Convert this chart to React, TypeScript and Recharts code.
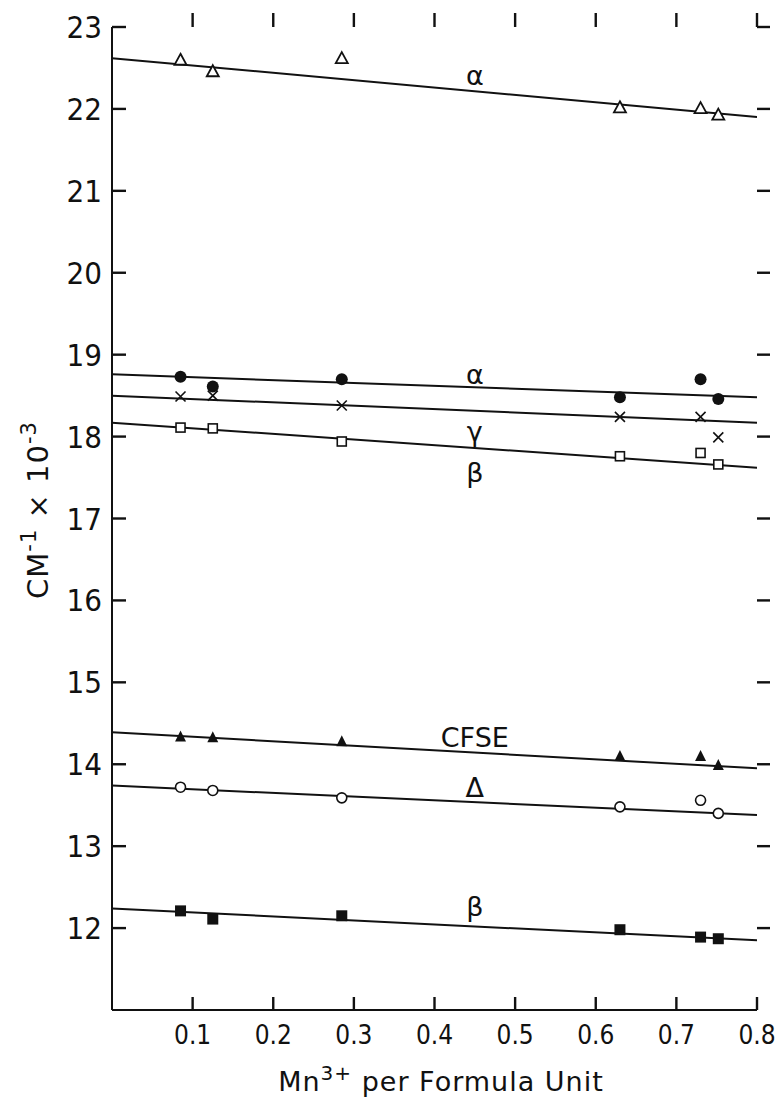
import React from 'react';
import { ComposedChart, Scatter, XAxis, YAxis, Customized } from 'recharts';

// Mn3+ content of each sample (x positions of the measured points)
const MN = [0.085, 0.125, 0.285, 0.63, 0.73, 0.752];

// measured band positions, cm-1 x 10^-3
const ALPHA_UP = [22.6, 22.46, 22.62, 22.02, 22.01, 21.93];
const ALPHA_LO = [18.73, 18.61, 18.7, 18.48, 18.7, 18.46];
const GAMMA = [18.49, 18.5, 18.38, 18.24, 18.24, 17.99];
const BETA_UP = [18.11, 18.1, 17.94, 17.76, 17.8, 17.66];
const CFSE = [14.34, 14.33, 14.28, 14.1, 14.1, 13.99];
const DELTA = [13.72, 13.68, 13.59, 13.48, 13.56, 13.4];
const BETA_LO = [12.21, 12.11, 12.15, 11.98, 11.89, 11.87];

// fitted straight lines: value at x=0 and at x=0.8
const FIT_X = [0, 0.8];
const FIT_ALPHA_UP = [22.62, 21.9];
const FIT_ALPHA_LO = [18.76, 18.48];
const FIT_GAMMA = [18.5, 18.17];
const FIT_BETA_UP = [18.17, 17.62];
const FIT_CFSE = [14.39, 13.95];
const FIT_DELTA = [13.74, 13.38];
const FIT_BETA_LO = [12.24, 11.85];

// curve labels
const LABEL_TEXT = ['α', 'α', 'γ', 'β', 'CFSE', 'Δ', 'β'];
const LABEL_X = [0.45, 0.45, 0.45, 0.45, 0.45, 0.45, 0.45];
const LABEL_Y = [22.41, 18.76, 18.06, 17.56, 14.33, 13.72, 12.26];

const X_TICKS = [0.1, 0.2, 0.3, 0.4, 0.5, 0.6, 0.7, 0.8];
const Y_TICKS = [12, 13, 14, 15, 16, 17, 18, 19, 20, 21, 22, 23];

const INK = '#111';
const FONT = '"DejaVu Sans Condensed", "DejaVu Sans", sans-serif';
const WIDE = '"DejaVu Sans", sans-serif';

const pts = (ys: number[]) => MN.map((x, i) => ({ x, y: ys[i] }));
const fit = (ys: number[]) => FIT_X.map((x, i) => ({ x, y: ys[i] }));

const OpenTri = ({ cx, cy }: any) => (
  <path d={`M${cx},${cy - 6} L${cx + 6},${cy + 5} L${cx - 6},${cy + 5} Z`} fill="#fff" stroke={INK} strokeWidth={1.8} />
);
const FillTri = ({ cx, cy }: any) => (
  <path d={`M${cx},${cy - 6} L${cx + 5.5},${cy + 5} L${cx - 5.5},${cy + 5} Z`} fill={INK} />
);
const FillDot = ({ cx, cy }: any) => <circle cx={cx} cy={cy} r={6} fill={INK} />;
const OpenDot = ({ cx, cy }: any) => <circle cx={cx} cy={cy} r={5} fill="#fff" stroke={INK} strokeWidth={1.6} />;
const OpenSq = ({ cx, cy }: any) => (
  <rect x={cx - 4.5} y={cy - 4.5} width={9} height={9} fill="#fff" stroke={INK} strokeWidth={1.6} />
);
const FillSq = ({ cx, cy }: any) => <rect x={cx - 5.5} y={cy - 5.5} width={11} height={11} fill={INK} />;
const Cross = ({ cx, cy }: any) => (
  <path d={`M${cx - 5},${cy - 5} L${cx + 5},${cy + 5} M${cx + 5},${cy - 5} L${cx - 5},${cy + 5}`} stroke={INK} strokeWidth={1.6} />
);
const NoShape = () => <g />;

const LabelShape = ({ cx, cy, payload }: any) => (
  <text x={cx} y={cy} textAnchor="middle" dominantBaseline="central" fontFamily={WIDE} fontSize={27} fill={INK}>
    {payload.text}
  </text>
);

// left/bottom: library tick lines point inward (negative tickSize), text drawn here
const LeftTick = (p: any) => (
  <text x={Number(p.x) - 10} y={Number(p.y)} textAnchor="end" dominantBaseline="central" fontFamily={FONT} fontSize={31} fill={INK}>
    {p.payload.value}
  </text>
);
const BottomTick = (p: any) => (
  <text x={Number(p.x)} y={Number(p.y) + 25} textAnchor="middle" dominantBaseline="central" fontFamily={FONT} fontSize={26} fill={INK}>
    {Number(p.payload.value).toFixed(1)}
  </text>
);
// top/right: short outward marks, no text
const TopTick = (p: any) => {
  const x = Number(p.x), y = Number(p.y);
  return <rect x={x - 1.2} y={y - 14} width={2.4} height={14} fill={INK} />;
};
const RightTick = (p: any) => {
  const x = Number(p.x), y = Number(p.y);
  return <rect x={x} y={y - 1.2} width={13} height={2.4} fill={INK} />;
};

const AxisTitles = () => (
  <g fontFamily={WIDE} fill={INK}>
    <text x={441} y={1091} textAnchor="middle" fontSize={27} letterSpacing={1}>
      Mn<tspan dy={-11} fontSize={20}>3+</tspan>
      <tspan dy={11}> per Formula Unit</tspan>
    </text>
    <text x={0} y={0} transform="translate(48,510) rotate(-90)" textAnchor="middle" fontSize={29} letterSpacing={1}>
      CM<tspan dy={-12} fontSize={21}>-1</tspan>
      <tspan dy={12}> × 10</tspan>
      <tspan dy={-12} fontSize={21}>-3</tspan>
    </text>
  </g>
);

export default function App() {
  const labels = LABEL_TEXT.map((text, i) => ({ x: LABEL_X[i], y: LABEL_Y[i], text }));
  const lineProps = { stroke: INK, strokeWidth: 2 };
  const tickLn = { stroke: INK, strokeWidth: 2.4 };

  return (
    <div style={{ position: 'absolute', left: 0, top: 0, background: '#fff' }}>
      <ComposedChart width={776} height={1098} margin={{ top: 0, right: 0, bottom: 0, left: 12 }}>
        <XAxis type="number" dataKey="x" domain={[0, 0.8]} ticks={X_TICKS} height={88}
          axisLine={{ stroke: INK, strokeWidth: 2 }} tickLine={tickLn} tickSize={-13} tickMargin={13} tick={<BottomTick />} allowDataOverflow />
        <XAxis xAxisId="top" orientation="top" type="number" dataKey="x" domain={[0, 0.8]} ticks={X_TICKS} height={27}
          axisLine={false} tickLine={false} tickSize={0} tickMargin={0} tick={<TopTick />} allowDataOverflow />
        <YAxis type="number" dataKey="y" domain={[11, 23]} ticks={Y_TICKS} width={100}
          axisLine={{ stroke: INK, strokeWidth: 2 }} tickLine={tickLn} tickSize={-14} tickMargin={14} tick={<LeftTick />} allowDataOverflow />
        <YAxis yAxisId="right" orientation="right" type="number" dataKey="y" domain={[11, 23]} ticks={Y_TICKS} width={19}
          axisLine={false} tickLine={false} tickSize={0} tickMargin={0} tick={<RightTick />} allowDataOverflow />

        {/* invisible copy so the top/right frame axes get drawn */}
        <Scatter data={fit(FIT_ALPHA_UP)} xAxisId="top" yAxisId="right" shape={NoShape} isAnimationActive={false} />

        <Scatter data={fit(FIT_ALPHA_UP)} line={lineProps} shape={NoShape} isAnimationActive={false} />
        <Scatter data={fit(FIT_ALPHA_LO)} line={lineProps} shape={NoShape} isAnimationActive={false} />
        <Scatter data={fit(FIT_GAMMA)} line={lineProps} shape={NoShape} isAnimationActive={false} />
        <Scatter data={fit(FIT_BETA_UP)} line={lineProps} shape={NoShape} isAnimationActive={false} />
        <Scatter data={fit(FIT_CFSE)} line={lineProps} shape={NoShape} isAnimationActive={false} />
        <Scatter data={fit(FIT_DELTA)} line={lineProps} shape={NoShape} isAnimationActive={false} />
        <Scatter data={fit(FIT_BETA_LO)} line={lineProps} shape={NoShape} isAnimationActive={false} />

        <Scatter data={pts(ALPHA_UP)} shape={OpenTri} isAnimationActive={false} />
        <Scatter data={pts(ALPHA_LO)} shape={FillDot} isAnimationActive={false} />
        <Scatter data={pts(GAMMA)} shape={Cross} isAnimationActive={false} />
        <Scatter data={pts(BETA_UP)} shape={OpenSq} isAnimationActive={false} />
        <Scatter data={pts(CFSE)} shape={FillTri} isAnimationActive={false} />
        <Scatter data={pts(DELTA)} shape={OpenDot} isAnimationActive={false} />
        <Scatter data={pts(BETA_LO)} shape={FillSq} isAnimationActive={false} />

        <Scatter data={labels} shape={LabelShape} isAnimationActive={false} />
        <Customized component={AxisTitles} />
      </ComposedChart>
    </div>
  );
}
